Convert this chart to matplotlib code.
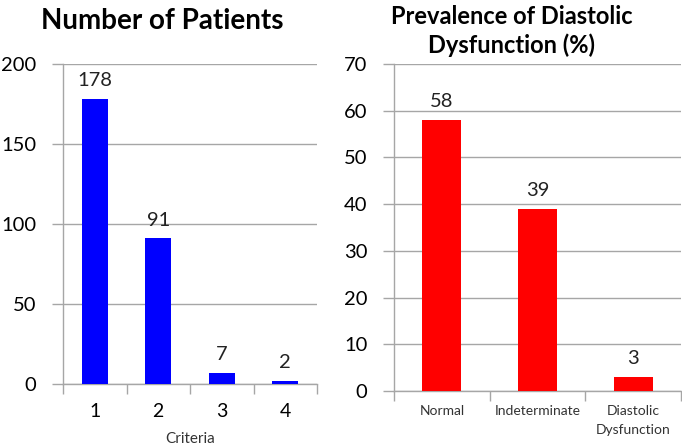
import matplotlib
matplotlib.use("Agg")
import matplotlib.pyplot as plt
import numpy as np

plt.rcParams['font.family'] = ['Lato', 'DejaVu Sans']

# left panel data
criteria = ['1', '2', '3', '4']
patients = [178, 91, 7, 2]

# right panel data
groups = ['Normal', 'Indeterminate', 'Diastolic\nDysfunction']
prevalence = [58, 39, 3]

W, H = 682, 447
fig = plt.figure(figsize=(W / 100, H / 100), dpi=100)

grid_c = '#a6a6a6'


def style_axes(ax, n, ymax, ystep):
    x = np.arange(n)
    ax.set_xlim(-0.5, n - 0.5)
    ax.set_ylim(0, ymax)
    ax.set_yticks(np.arange(0, ymax + 1, ystep))
    ax.set_xticks(x)
    ax.set_xticks(np.arange(n + 1) - 0.5, minor=True)
    ax.tick_params(axis='x', which='major', length=0, pad=14, labelsize=14)
    ax.tick_params(axis='x', which='minor', length=7, color=grid_c, width=1)
    ax.tick_params(axis='y', length=8, color=grid_c, width=1, pad=11,
                   labelsize=14.5)
    ax.grid(axis='y', color=grid_c, lw=1)
    ax.set_axisbelow(True)
    for s in ['top', 'right']:
        ax.spines[s].set_visible(False)
    for s in ['left', 'bottom']:
        ax.spines[s].set_color(grid_c)
        ax.spines[s].set_linewidth(1)


# left: number of patients
ax1 = fig.add_axes([63 / W, (H - 384) / H, (317 - 63) / W, (384 - 64) / H])
x1 = np.arange(len(criteria))
bars = ax1.bar(x1, patients, width=0.41, color='#0000ff', zorder=3)
style_axes(ax1, len(criteria), 200, 50)
ax1.set_xticklabels(criteria)
for xi, v in zip(x1, patients):
    ax1.annotate(str(v), (xi, v), xytext=(0, 7), textcoords='offset points',
                 ha='center', va='bottom', fontsize=14.5, color='#222222')
ax1.set_xlabel('Criteria', fontsize=11, color='#333333', labelpad=8)
fig.text(162 / W, 1 - 21 / H, 'Number of Patients', ha='center', va='center',
         fontsize=20, fontweight='bold')

# right: prevalence
ax2 = fig.add_axes([394 / W, (H - 391) / H, (681 - 394) / W, (391 - 64) / H])
x2 = np.arange(len(groups))
ax2.bar(x2, prevalence, width=0.41, color='#ff0000', zorder=3)
style_axes(ax2, len(groups), 70, 10)
ax2.set_xticklabels(groups, fontsize=10, color='#333333', linespacing=1.7)
ax2.tick_params(axis='x', which='major', pad=10)
for xi, v in zip(x2, prevalence):
    ax2.annotate(str(v), (xi, v), xytext=(0, 7), textcoords='offset points',
                 ha='center', va='bottom', fontsize=14.5, color='#222222')
fig.text(512 / W, 1 - 31 / H, 'Prevalence of Diastolic\nDysfunction (%)',
         ha='center', va='center', fontsize=17, fontweight='bold',
         linespacing=1.3)

fig.savefig('out.png', dpi=100)
